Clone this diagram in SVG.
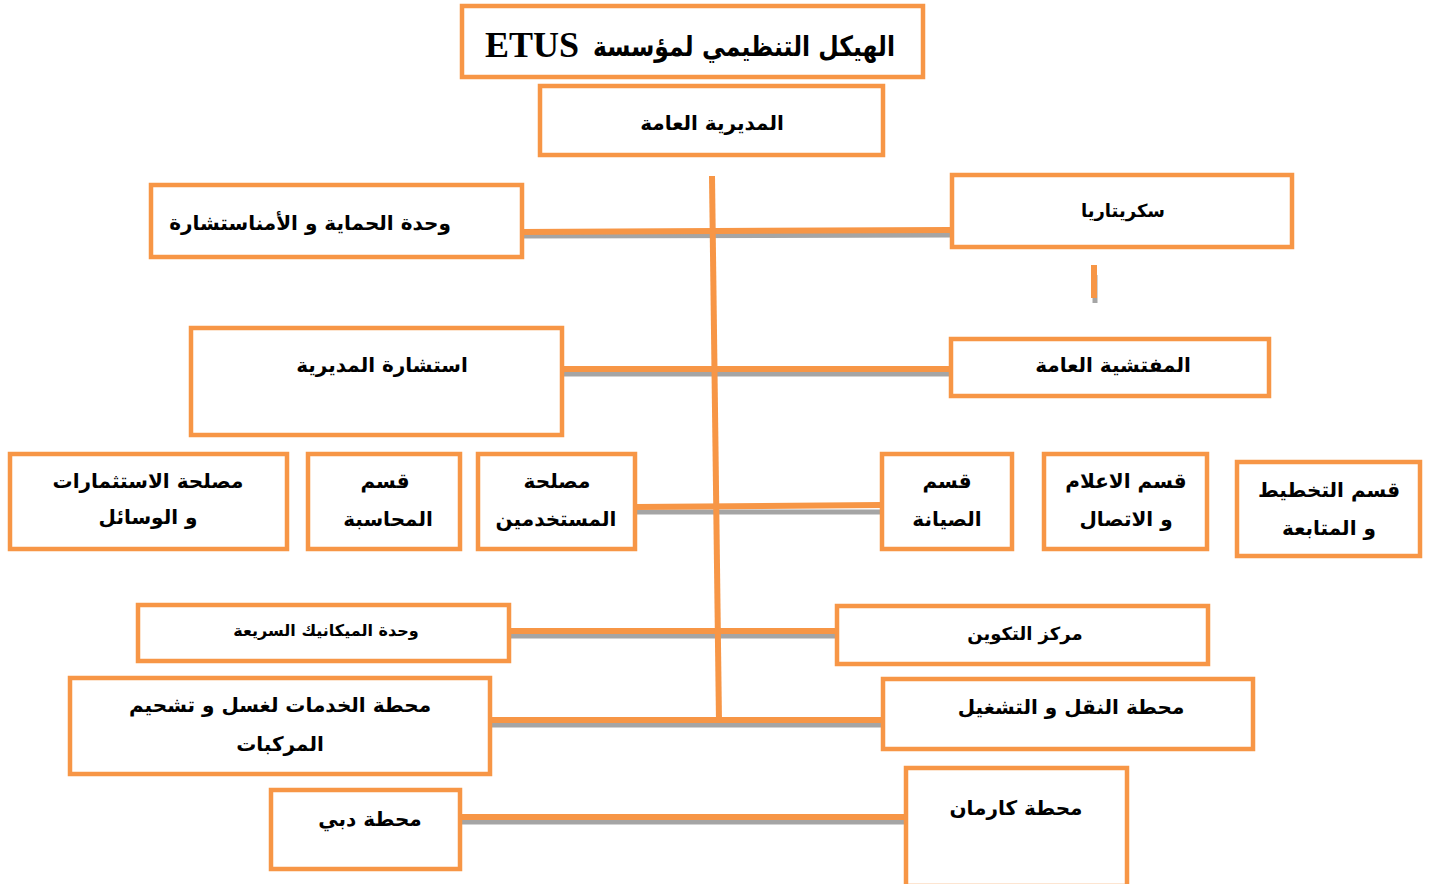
<svg xmlns="http://www.w3.org/2000/svg" width="1429" height="884" viewBox="0 0 1429 884">
<style>
.box{fill:#fff;stroke:#F79646;stroke-width:4.5}
.t{font-family:"DejaVu Sans","Liberation Sans",sans-serif;font-weight:bold;fill:#000;text-anchor:middle;direction:rtl}
.ln{stroke:#F79646;stroke-width:6;fill:none}
.sh{stroke:#A5A5A5;stroke-width:5;fill:none}
</style>
<rect width="1429" height="884" fill="#fff"/>
<g id="connectors">
<line class="sh" x1="519" y1="236" x2="950" y2="235"/>
<line class="ln" x1="519" y1="232" x2="950" y2="230"/>
<line class="sh" x1="562" y1="374" x2="950" y2="374"/>
<line class="ln" x1="562" y1="369" x2="950" y2="369"/>
<line class="sh" x1="636" y1="512" x2="881" y2="512"/>
<line class="ln" x1="636" y1="507" x2="881" y2="505"/>
<line class="sh" x1="508" y1="636" x2="836" y2="636"/>
<line class="ln" x1="508" y1="631" x2="836" y2="631"/>
<line class="sh" x1="490" y1="725" x2="882" y2="725"/>
<line class="ln" x1="490" y1="720" x2="882" y2="720"/>
<line class="sh" x1="460" y1="822" x2="905" y2="822"/>
<line class="ln" x1="460" y1="817" x2="905" y2="817"/>
<line class="ln" x1="712" y1="176" x2="719" y2="722"/>
<line class="sh" x1="1095" y1="275" x2="1095" y2="303"/>
<line class="ln" x1="1094" y1="265" x2="1094" y2="298"/>
</g>
<g id="title"><rect class="box" x="462" y="6" width="461" height="71"/><text x="744" y="56" textLength="302" lengthAdjust="spacingAndGlyphs" style="font-family:'DejaVu Sans',sans-serif;font-weight:bold;font-size:28px;text-anchor:middle;direction:rtl">الهيكل التنظيمي لمؤسسة</text><text x="485" y="57" style="font-family:'Liberation Serif',serif;font-weight:bold;font-size:36px;text-anchor:start">ETUS</text></g>
<g id="n-dg"><rect class="box" x="540" y="86" width="343" height="69"/><text class="t" x="712" y="130" font-size="20">المديرية العامة</text></g>
<g id="n-protection"><rect class="box" x="151" y="185" width="371" height="72"/><text class="t" x="310" y="230" font-size="20">وحدة الحماية و الأمناستشارة</text></g>
<g id="n-secretariat"><rect class="box" x="952" y="175" width="340" height="72"/><text class="t" x="1123" y="217" font-size="18">سكريتاريا</text></g>
<g id="n-consult"><rect class="box" x="191" y="328" width="371" height="107"/><text class="t" x="382" y="372" font-size="20">استشارة المديرية</text></g>
<g id="n-inspection"><rect class="box" x="951" y="339" width="318" height="57"/><text class="t" x="1113" y="372" font-size="20">المفتشية العامة</text></g>
<g id="n-invest"><rect class="box" x="10" y="454" width="277" height="95"/><text class="t" x="148" y="488" font-size="20">مصلحة الاستثمارات</text><text class="t" x="148" y="524" font-size="20">و الوسائل</text></g>
<g id="n-accounting"><rect class="box" x="308" y="454" width="152" height="95"/><text class="t" x="385" y="488" font-size="20">قسم</text><text class="t" x="388" y="526" font-size="20">المحاسبة</text></g>
<g id="n-staff"><rect class="box" x="478" y="454" width="157" height="95"/><text class="t" x="557" y="488" font-size="20">مصلحة</text><text class="t" x="556" y="526" font-size="20">المستخدمين</text></g>
<g id="n-maintenance"><rect class="box" x="882" y="454" width="130" height="95"/><text class="t" x="947" y="488" font-size="20">قسم</text><text class="t" x="947" y="526" font-size="20">الصيانة</text></g>
<g id="n-media"><rect class="box" x="1044" y="454" width="163" height="95"/><text class="t" x="1126" y="488" font-size="20">قسم الاعلام</text><text class="t" x="1126" y="526" font-size="20">و الاتصال</text></g>
<g id="n-planning"><rect class="box" x="1237" y="462" width="183" height="94"/><text class="t" x="1329" y="497" font-size="20">قسم التخطيط</text><text class="t" x="1329" y="535" font-size="20">و المتابعة</text></g>
<g id="n-mechanics"><rect class="box" x="138" y="605" width="371" height="56"/><text class="t" x="326" y="636" font-size="16">وحدة الميكانيك السريعة</text></g>
<g id="n-training"><rect class="box" x="837" y="606" width="371" height="58"/><text class="t" x="1025" y="640" font-size="18">مركز التكوين</text></g>
<g id="n-services"><rect class="box" x="70" y="678" width="420" height="96"/><text class="t" x="280" y="712" font-size="20">محطة الخدمات لغسل و تشحيم</text><text class="t" x="280" y="751" font-size="20">المركبات</text></g>
<g id="n-transport"><rect class="box" x="883" y="679" width="370" height="70"/><text class="t" x="1071" y="714" font-size="20">محطة النقل و التشغيل</text></g>
<g id="n-dubai"><rect class="box" x="271" y="790" width="189" height="79"/><text class="t" x="370" y="826" font-size="20">محطة دبي</text></g>
<g id="n-karman"><rect class="box" x="906" y="768" width="221" height="118"/><text class="t" x="1016" y="815" font-size="20">محطة كارمان</text></g>
</svg>
